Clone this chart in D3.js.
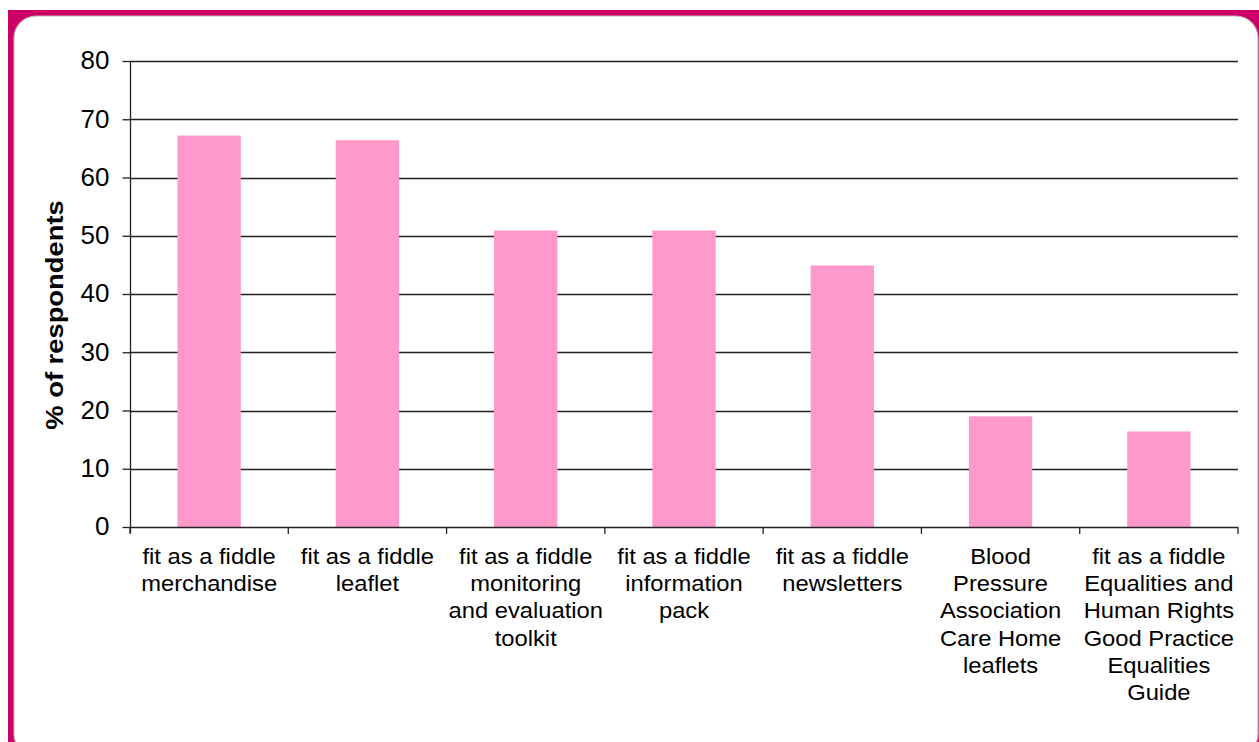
<!DOCTYPE html>
<html><head><meta charset="utf-8">
<script src="https://cdn.jsdelivr.net/npm/d3@7"></script>
<style>html,body{margin:0;padding:0;background:#fff;}svg{display:block;}</style>
</head><body>
<svg id="c" width="1259" height="742"></svg>
<script>
const categories = [
  ["fit as a fiddle","merchandise"],
  ["fit as a fiddle","leaflet"],
  ["fit as a fiddle","monitoring","and evaluation","toolkit"],
  ["fit as a fiddle","information","pack"],
  ["fit as a fiddle","newsletters"],
  ["Blood","Pressure","Association","Care Home","leaflets"],
  ["fit as a fiddle","Equalities and","Human Rights","Good Practice","Equalities","Guide"]
];
const values = [67.2, 66.4, 50.9, 50.9, 44.9, 19.0, 16.4];
const yTicks = [0,10,20,30,40,50,60,70,80];
const yTitle = "% of respondents";

const svg = d3.select("#c");
const font = "'Liberation Sans', Arial, sans-serif";

// frame
svg.append("rect").attr("x",0).attr("y",0).attr("width",1259).attr("height",742).attr("fill","#fff");
svg.append("rect").attr("x",8).attr("y",10).attr("width",1260).attr("height",740).attr("fill","#cc0066");
svg.append("rect").attr("x",14).attr("y",16).attr("width",1244).attr("height",740)
  .attr("rx",22).attr("ry",22).attr("fill","#fff").attr("stroke","#b8b8b8").attr("stroke-width",1.2);

const pLeft = 130, pRight = 1238, pTop = 61, pBottom = 527;
const x = d3.scaleBand().domain(d3.range(categories.length)).range([pLeft,pRight]).paddingInner(0.6).paddingOuter(0.3);
const xb = d3.scaleBand().domain(d3.range(categories.length)).range([pLeft,pRight]);
const y = d3.scaleLinear().domain([0,80]).range([pBottom,pTop]);

// gridlines
svg.append("g").selectAll("line").data(yTicks.filter(d=>d>0)).join("line")
  .attr("x1",pLeft).attr("x2",pRight).attr("y1",d=>Math.round(y(d))+0.5).attr("y2",d=>Math.round(y(d))+0.5)
  .attr("stroke","#222").attr("stroke-width",1.3);

// bars
svg.append("g").selectAll("rect").data(values).join("rect")
  .attr("x",(d,i)=>x(i)).attr("width",x.bandwidth())
  .attr("y",d=>y(d)).attr("height",d=>y(0)-y(d))
  .attr("fill","#ff99cc");

// y axis
const ya = svg.append("g").attr("transform",`translate(${pLeft+0.5},0)`)
  .call(d3.axisLeft(y).tickValues(yTicks).tickSize(8).tickPadding(13));
ya.select(".domain").attr("stroke","#222").attr("stroke-width",1.3).attr("d",`M0,${pTop}V${pBottom+6}`);
ya.selectAll(".tick line").attr("stroke","#222").attr("stroke-width",1.3);
ya.selectAll(".tick text").attr("font-family",font).attr("font-size",26).attr("fill","#000").attr("dy","0.3em");

// x axis
svg.append("line").attr("x1",pLeft).attr("x2",pRight).attr("y1",pBottom+0.5).attr("y2",pBottom+0.5)
  .attr("stroke","#222").attr("stroke-width",1.3);
svg.append("g").selectAll("line").data(d3.range(categories.length+1)).join("line")
  .attr("x1",i=>i<categories.length?xb(i):pRight).attr("x2",i=>i<categories.length?xb(i):pRight)
  .attr("y1",pBottom).attr("y2",pBottom+7).attr("stroke","#222").attr("stroke-width",1.3);

// category labels
const lab = svg.append("g").selectAll("text").data(categories).join("text")
  .attr("font-family",font).attr("font-size",22).attr("fill","#000").attr("text-anchor","middle")
  .attr("transform",(d,i)=>`translate(${xb(i)+xb.bandwidth()/2},564) scale(1.08,1)`);
lab.selectAll("tspan").data(d=>d).join("tspan").attr("x",0).attr("y",(d,j)=>j*27.2).text(d=>d);

// y title
svg.append("text").attr("transform","translate(63,315) rotate(-90) scale(1.14,1)")
  .attr("text-anchor","middle").attr("font-family",font).attr("font-weight","bold").attr("font-size",24)
  .attr("fill","#000").text(yTitle);
</script>
</body></html>
